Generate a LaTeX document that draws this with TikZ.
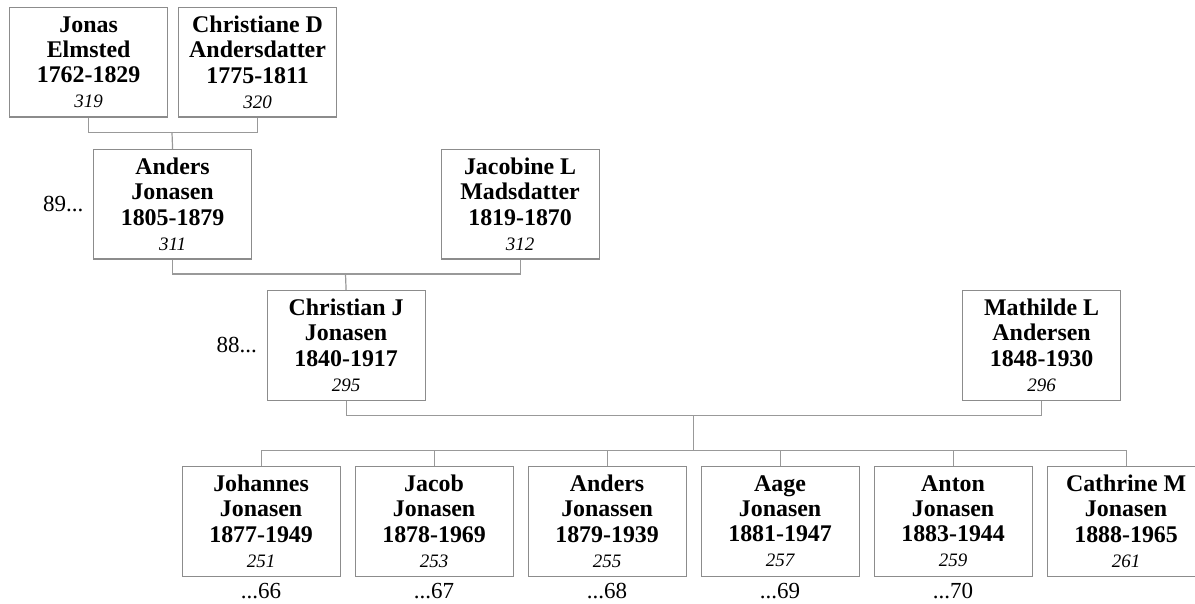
\documentclass[tikz,border=0pt]{standalone}
\usepackage{fontspec}
\setmainfont{Liberation Serif}
\begin{document}
\begin{tikzpicture}[x=1pt,y=-1pt,
  person/.style={draw=boxgray, line width=1.2pt, fill=white,
    minimum width=158pt, minimum height=109.5pt, inner sep=0pt,
    anchor=north west, align=center,
    font=\fontsize{23.9}{25.2}\selectfont\bfseries},
  conn/.style={draw=linegray, line width=1.2pt},
  ref/.style={font=\fontsize{23}{26}\selectfont}]
\definecolor{boxgray}{HTML}{8C8C8C}
\definecolor{linegray}{HTML}{999999}
\newcommand{\idn}[1]{{\fontsize{19}{25.2}\selectfont\mdseries\itshape #1}}
\useasboundingbox (0,0) rectangle (1195,604);
\clip (0,0) rectangle (1195,604);
\fill[white] (0,0) rectangle (1195,604);

% generation 1
\node[person] (jonas) at (9,7) {Jonas\\Elmsted\\1762-1829\\\idn{319}};
\node[person] (christiane) at (178,7) {Christiane D\\Andersdatter\\1775-1811\\\idn{320}};
% generation 2
\node[person] (anders) at (93,149) {Anders\\Jonasen\\1805-1879\\\idn{311}};
\node[person] (jacobine) at (440.5,149) {Jacobine L\\Madsdatter\\1819-1870\\\idn{312}};
% generation 3
\node[person] (christian) at (266.5,290) {Christian J\\Jonasen\\1840-1917\\\idn{295}};
\node[person] (mathilde) at (962,290) {Mathilde L\\Andersen\\1848-1930\\\idn{296}};
% generation 4
\node[person] (c1) at (181.5,466) {Johannes\\Jonasen\\1877-1949\\\idn{251}};
\node[person] (c2) at (354.5,466) {Jacob\\Jonasen\\1878-1969\\\idn{253}};
\node[person] (c3) at (527.5,466) {Anders\\Jonassen\\1879-1939\\\idn{255}};
\node[person] (c4) at (700.5,466) {Aage\\Jonasen\\1881-1947\\\idn{257}};
\node[person] (c5) at (873.5,466) {Anton\\Jonasen\\1883-1944\\\idn{259}};
\node[person] (c6) at (1046.5,466) {Cathrine M\\Jonasen\\1888-1965\\\idn{261}};

% reference labels
\node[ref, anchor=east] (r89) at ([xshift=-6pt]anders.west) {89...};
\node[ref, anchor=east] (r88) at ([xshift=-6pt]christian.west) {88...};
\node[ref, anchor=base] (r66) at ([yshift=-22pt]c1.south) {...66};
\node[ref, anchor=base] (r67) at ([yshift=-22pt]c2.south) {...67};
\node[ref, anchor=base] (r68) at ([yshift=-22pt]c3.south) {...68};
\node[ref, anchor=base] (r69) at ([yshift=-22pt]c4.south) {...69};
\node[ref, anchor=base] (r70) at ([yshift=-22pt]c5.south) {...70};

% connectors
\coordinate (u1) at (172,132.7);
\coordinate (u2) at (345.5,274);
\coordinate (u3) at (693.5,415.7);
\coordinate (u4) at (693.5,450.5);
\draw[conn] (jonas.south) |- (u1) -| (christiane.south);
\draw[conn] (u1) -- (anders.north);
\draw[conn] (anders.south) |- (u2) -| (jacobine.south);
\draw[conn] (u2) -- (christian.north);
\draw[conn] (christian.south) |- (u3) -| (mathilde.south);
\draw[conn] (u3) -- (u4);
\draw[conn] (c1.north) -- (c1.north |- u4) -- (c6.north |- u4) -- (c6.north);
\foreach \c in {c2,c3,c4,c5}{
  \draw[conn] (\c.north) -- (\c.north |- u4);
}
\end{tikzpicture}
\end{document}
